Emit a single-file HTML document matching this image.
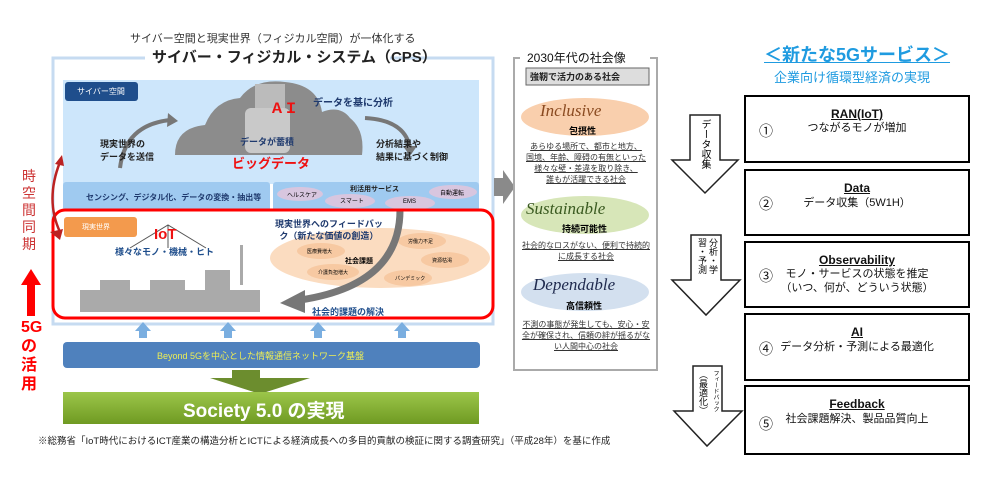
<!DOCTYPE html>
<html><head><meta charset="utf-8"><style>
body{margin:0;width:1000px;height:483px;background:#fff;position:relative;overflow:hidden;font-family:"Liberation Sans","Noto Sans CJK JP",sans-serif}
.a{position:absolute;white-space:nowrap}
.box{position:absolute;left:744px;width:222px;border:2px solid #000;background:#fff;font-size:11px;color:#111}
.box .t{position:absolute;left:0;right:0;text-align:center;font-weight:bold;text-decoration:underline;font-size:12px}
.box .d{position:absolute;left:0;right:0;text-align:center;line-height:14px}
.box .n{position:absolute;left:13px;font-size:14px}
.mid{position:absolute;left:516px;width:140px;text-align:center;font-size:8px;line-height:11px;text-decoration:underline;color:#333}
.v{position:absolute;writing-mode:vertical-rl;white-space:normal}
</style></head><body>
<svg class="a" style="left:0;top:0" width="1000" height="483">
<rect x="53" y="58" width="440" height="266" fill="#fff" stroke="#c6dbf1" stroke-width="3"/>
<rect x="145" y="46" width="245" height="22" fill="#fff"/>
<rect x="63" y="80" width="416" height="104" fill="#cde6fb"/>
<rect x="65" y="82" width="73" height="19" rx="3" fill="#1f4e8c"/>
<path d="M175 155 Q175 128 205 125 Q215 100 240 98 Q255 78 285 82 Q318 85 322 112 Q340 105 350 118 Q365 130 362 155 Z" fill="#8c8c8c"/>
<rect x="245" y="108" width="45" height="45" rx="6" fill="#c9c9c9"/>
<rect x="255" y="84" width="30" height="24" fill="#bbb"/>
<path d="M120 168 Q125 125 170 120" stroke="#777" stroke-width="4" fill="none"/>
<polygon points="168,113 178,121 167,127" fill="#777"/>
<path d="M365 118 Q405 120 410 148" stroke="#777" stroke-width="4" fill="none"/>
<polygon points="403,146 417,146 410,156" fill="#777"/>
<rect x="63" y="182" width="207" height="29" rx="3" fill="#9fcaf0"/>
<rect x="273" y="182" width="206" height="29" rx="3" fill="#9fcaf0"/>
<ellipse cx="300" cy="194" rx="23" ry="7" fill="#d8c6df"/>
<ellipse cx="350" cy="201" rx="25" ry="7" fill="#d8c6df"/>
<ellipse cx="410" cy="203" rx="25" ry="7" fill="#d8c6df"/>
<ellipse cx="453" cy="192" rx="24" ry="7" fill="#d8c6df"/>
<ellipse cx="380" cy="258" rx="110" ry="30" fill="#fbdcc0"/>
<ellipse cx="321" cy="251" rx="24" ry="8" fill="#f7c9a2"/>
<ellipse cx="333" cy="272" rx="26" ry="8" fill="#f7c9a2"/>
<ellipse cx="422" cy="241" rx="24" ry="8" fill="#f7c9a2"/>
<ellipse cx="445" cy="260" rx="24" ry="8" fill="#f7c9a2"/>
<ellipse cx="408" cy="278" rx="24" ry="8" fill="#f7c9a2"/>
<rect x="64" y="217" width="73" height="20" rx="3" fill="#f39a4d"/>
<path d="M400 210 Q400 285 300 300" stroke="#777" stroke-width="7" fill="none"/>
<polygon points="280,303 305,290 305,313" fill="#777"/>
<g fill="#aaa">
<rect x="80" y="290" width="180" height="22"/>
<rect x="100" y="280" width="30" height="12"/>
<rect x="150" y="280" width="35" height="20"/>
<rect x="205" y="270" width="25" height="25"/>
<rect x="240" y="245" width="3" height="40"/>
</g>
<path d="M130 248 L168 225 L206 248" stroke="#555" fill="none"/>
<line x1="168" y1="225" x2="168" y2="248" stroke="#555"/>
<rect x="53" y="210" width="440" height="108" rx="12" fill="none" stroke="#f00" stroke-width="3"/>
<g fill="#7aaee0">
<polygon points="135,331 143,322 151,331 147,331 147,338 139,338 139,331"/>
<polygon points="220,331 228,322 236,331 232,331 232,338 224,338 224,331"/>
<polygon points="310,331 318,322 326,331 322,331 322,338 314,338 314,331"/>
<polygon points="394,331 402,322 410,331 406,331 406,338 398,338 398,331"/>
</g>
<rect x="63" y="342" width="417" height="26" rx="4" fill="#4f81bd"/>
<polygon points="232,370 260,370 260,378 310,378 260,394 210,378 232,378" fill="#6c8d2e"/>
<defs><linearGradient id="g" x1="0" y1="0" x2="0" y2="1"><stop offset="0" stop-color="#9cc64a"/><stop offset="1" stop-color="#6f9a22"/></linearGradient></defs>
<rect x="63" y="392" width="416" height="32" fill="url(#g)"/>
<path d="M60 232 Q45 200 60 162" stroke="#b22" stroke-width="2.5" fill="none"/>
<polygon points="55,164 62,155 64,166" fill="#b22"/>
<polygon points="50,232 60,240 63,229" fill="#b22"/>
<polygon points="21,285 31,269 41,285 35,285 35,316 27,316 27,285" fill="#f00"/>
<polygon points="494,178 503,178 503,170 515,187 503,204 503,196 494,196" fill="#8a8a8a"/>
<rect x="514" y="58" width="143" height="312" fill="#fff" stroke="#aaa" stroke-width="2"/>
<rect x="520" y="48" width="130" height="16" fill="#fff"/>
<rect x="526" y="68" width="123" height="17" fill="#ddd" stroke="#666"/>
<ellipse cx="585" cy="117" rx="64" ry="19" fill="#f9cfad"/>
<ellipse cx="585" cy="215" rx="64" ry="19" fill="#d7e6b8"/>
<ellipse cx="585" cy="292" rx="64" ry="19" fill="#d3e0ef"/>
<g fill="#fff" stroke="#222" stroke-width="1.5">
<polygon points="690,115 720,115 720,160 738,160 705,193 672,160 690,160"/>
<polygon points="691,235 721,235 721,280 740,280 706,315 672,280 691,280"/>
<polygon points="693,366 722,366 722,411 742,411 707,446 674,411 693,411"/>
</g>
</svg>
<div class="a" style="left:130px;top:30px;font-size:11px;color:#333">サイバー空間と現実世界（フィジカル空間）が一体化する</div>
<div class="a" style="left:152px;top:46px;font-size:15px;font-weight:bold;color:#222">サイバー・フィジカル・システム（CPS）</div>
<div class="a" style="left:77px;top:86px;font-size:8px;color:#fff">サイバー空間</div>
<div class="a" style="left:270px;top:98px;font-size:14px;color:#e11;font-weight:bold">ＡＩ</div>
<div class="a" style="left:313px;top:94px;font-size:10px;color:#1f3a6e;font-weight:bold">データを基に分析</div>
<div class="a" style="left:240px;top:135px;font-size:9px;color:#1f3a6e;font-weight:bold">データが蓄積</div>
<div class="a" style="left:232px;top:153px;font-size:13px;color:#e11;font-weight:bold">ビッグデータ</div>
<div class="a" style="left:100px;top:138px;font-size:9px;line-height:13px;color:#222;font-weight:bold">現実世界の<br>データを送信</div>
<div class="a" style="left:376px;top:138px;font-size:9px;line-height:13px;color:#222;font-weight:bold">分析結果や<br>結果に基づく制御</div>
<div class="a" style="left:86px;top:192px;font-size:8px;color:#1f3a6e;font-weight:bold">センシング、デジタル化、データの変換・抽出等</div>
<div class="a" style="left:350px;top:184px;font-size:7px;color:#222;font-weight:bold">利活用サービス</div>
<div class="a" style="left:287px;top:190px;font-size:6px">ヘルスケア</div>
<div class="a" style="left:340px;top:196px;font-size:6px">スマート</div>
<div class="a" style="left:403px;top:199px;font-size:6px">EMS</div>
<div class="a" style="left:440px;top:188px;font-size:6px">自動運転</div>
<div class="a" style="left:82px;top:222px;font-size:7px;color:#fff">現実世界</div>
<div class="a" style="left:154px;top:226px;font-size:15px;color:#e11;font-weight:bold">IoT</div>
<div class="a" style="left:115px;top:245px;font-size:9px;color:#1f4e8c;font-weight:bold">様々なモノ・機械・ヒト</div>
<div class="a" style="left:275px;top:218px;font-size:9px;line-height:12px;color:#1f3a6e;font-weight:bold;text-align:center">現実世界へのフィードバッ<br>ク（新たな価値の創造）</div>
<div class="a" style="left:307px;top:248px;font-size:5px">医療費増大</div>
<div class="a" style="left:345px;top:256px;font-size:7px;font-weight:bold">社会課題</div>
<div class="a" style="left:318px;top:269px;font-size:5px">介護負担増大</div>
<div class="a" style="left:408px;top:238px;font-size:5px">労働力不足</div>
<div class="a" style="left:432px;top:257px;font-size:5px">資源枯渇</div>
<div class="a" style="left:395px;top:275px;font-size:5px">パンデミック</div>
<div class="a" style="left:312px;top:305px;font-size:9px;color:#1f4e8c;font-weight:bold">社会的課題の解決</div>
<div class="a" style="left:157px;top:349px;font-size:9px;color:#ee5">Beyond 5Gを中心とした情報通信ネットワーク基盤</div>
<div class="a" style="left:183px;top:396px;font-size:19px;color:#fff;font-weight:bold">Society 5.0 の実現</div>
<div class="a" style="left:38px;top:433px;font-size:9.5px;color:#222">※総務省「IoT時代におけるICT産業の構造分析とICTによる経済成長への多目的貢献の検証に関する調査研究」（平成28年）を基に作成</div>
<div class="a" style="left:22px;top:168px;font-size:14px;line-height:17px;color:#c33;width:16px;white-space:normal">時空間同期</div>
<div class="a" style="left:21px;top:318px;font-size:16px;line-height:19px;color:#f00;width:18px;white-space:normal;font-weight:bold">5Gの活用</div>
<div class="a" style="left:527px;top:49px;font-size:12px;color:#111">2030年代の社会像</div>
<div class="a" style="left:530px;top:70px;font-size:9px;font-weight:bold;color:#222">強靭で活力のある社会</div>
<div class="a" style="left:540px;top:101px;font-size:17px;color:#8a4a20;font-family:'Liberation Serif',serif;font-style:italic">Inclusive</div>
<div class="a" style="left:569px;top:124px;font-size:9px;font-weight:bold">包摂性</div>
<div class="mid" style="top:141px">あらゆる場所で、都市と地方、<br>国境、年齢、障碍の有無といった<br>様々な壁・差違を取り除き、<br>誰もが活躍できる社会</div>
<div class="a" style="left:526px;top:199px;font-size:17px;color:#3a5a20;font-family:'Liberation Serif',serif;font-style:italic">Sustainable</div>
<div class="a" style="left:562px;top:222px;font-size:9px;font-weight:bold">持続可能性</div>
<div class="mid" style="top:240px">社会的なロスがない、便利で持続的<br>に成長する社会</div>
<div class="a" style="left:533px;top:275px;font-size:17px;color:#1f2a4e;font-family:'Liberation Serif',serif;font-style:italic">Dependable</div>
<div class="a" style="left:566px;top:299px;font-size:9px;font-weight:bold">高信頼性</div>
<div class="mid" style="top:319px">不測の事態が発生しても、安心・安<br>全が確保され、信頼の絆が揺るがな<br>い人間中心の社会</div>
<div class="a" style="left:764px;top:41px;font-size:18px;color:#1f9be0;font-weight:bold;text-decoration:underline">＜新たな5Gサービス＞</div>
<div class="a" style="left:774px;top:67px;font-size:13px;color:#1f9be0">企業向け循環型経済の実現</div>
<div class="v" style="left:698px;top:119px;font-size:10px;line-height:12px;height:60px">データ収集</div>
<div class="v" style="left:696px;top:238px;font-size:9px;line-height:11px;height:40px">分析・学習・予測</div>
<div class="v" style="left:697px;top:370px;height:70px;line-height:11px"><span style="font-size:6px">フィードバック</span><br><span style="font-size:9px">（最適化）</span></div>
<div class="box" style="top:95px;height:64px"><div class="t" style="top:10px">RAN(IoT)</div><div class="d" style="top:24px">つながるモノが増加</div><div class="n" style="top:24px">①</div></div>
<div class="box" style="top:169px;height:63px"><div class="t" style="top:10px">Data</div><div class="d" style="top:25px">データ収集（5W1H）</div><div class="n" style="top:23px">②</div></div>
<div class="box" style="top:241px;height:63px"><div class="t" style="top:10px">Observability</div><div class="d" style="top:24px">モノ・サービスの状態を推定<br>（いつ、何が、どういう状態）</div><div class="n" style="top:23px">③</div></div>
<div class="box" style="top:313px;height:64px"><div class="t" style="top:10px">AI</div><div class="d" style="top:25px">データ分析・予測による最適化</div><div class="n" style="top:24px">④</div></div>
<div class="box" style="top:385px;height:66px"><div class="t" style="top:10px">Feedback</div><div class="d" style="top:25px">社会課題解決、製品品質向上</div><div class="n" style="top:27px">⑤</div></div>
</body></html>
